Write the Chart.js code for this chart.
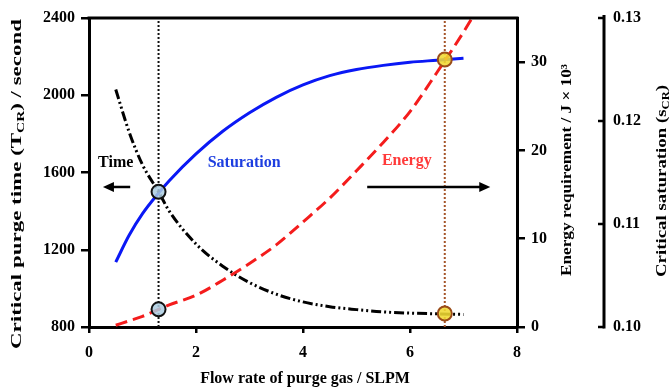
<!DOCTYPE html>
<html>
<head>
<meta charset="utf-8">
<script src="https://cdn.jsdelivr.net/npm/chart.js@4.4.1/dist/chart.umd.min.js"></script>
<style>
  html, body { margin: 0; padding: 0; background: #ffffff; }
  #wrap { width: 670px; height: 388px; position: relative; }
</style>
</head>
<body>
<div id="wrap"><canvas id="chart"></canvas></div>
<script>
// Flow rate (SLPM) and the three responses
const flowRate   = [0.5, 0.75, 1.0, 1.3, 1.5, 2.0, 2.5, 3.0, 3.5, 4.0, 4.5, 5.0, 5.5, 6.0, 6.5, 7.0];
const purgeTime  = [2030, 1810, 1640, 1500, 1400, 1230, 1115, 1030, 970, 930, 905, 890, 878, 872, 868, 865];
const saturation = [0.1063, 0.1089, 0.1110, 0.1130, 0.1142, 0.1168, 0.1190, 0.1208, 0.1223, 0.1235, 0.1244, 0.1250, 0.1254, 0.1257, 0.1259, 0.1261];
const energyFlow = [0.5, 0.75, 1.0, 1.3, 1.5, 2.0, 2.5, 3.0, 3.5, 4.0, 4.5, 5.0, 5.5, 6.0, 6.5, 7.0, 7.15];
const energy     = [0.2, 0.7, 1.2, 2.0, 2.5, 3.6, 5.3, 7.2, 9.3, 11.9, 14.6, 17.7, 20.9, 24.4, 28.8, 33.4, 34.9];

// Highlighted operating points
const lowFlow  = 1.3;
const highFlow = 6.65;
const lowFlowTime    = 1500;
const lowFlowEnergy  = 2.0;
const highFlowEnergy = 30.3;
const highFlowTime   = 870;

// Axis ranges and tick steps
const xRange = [0, 8, 2];
const timeRange = [800, 2400, 400];
const energyRange = [0, 35, 10];
const satRange = [0.10, 0.13, 0.01];

const SERIF = '"Liberation Serif", "Times New Roman", serif';
const zip = (xs, ys) => xs.map((x, i) => ({ x, y: ys[i] }));

const blueMarker = { bg: 'rgba(172,204,224,0.85)', border: '#111111' };
const goldMarker = { bg: 'rgba(240,218,50,0.88)', border: '#9a4c18' };

function markerSet(point, axis, style) {
  return {
    data: [point], yAxisID: axis, showLine: false, order: 0,
    pointRadius: 7, pointHoverRadius: 7, pointBorderWidth: 2,
    pointBackgroundColor: style.bg, pointBorderColor: style.border
  };
}
function guideSet(x, color) {
  return {
    data: [{ x, y: timeRange[0] }, { x, y: timeRange[1] }], yAxisID: 'y',
    borderColor: color, borderWidth: 2, borderDash: [2, 2], pointRadius: 0, order: 5
  };
}

// Draws a line of text made of normal and subscript pieces, centred at (cx, cy);
// 'span' optionally stretches the line along its direction to a given length
function drawRich(ctx, parts, cx, cy, rot, size, color, span) {
  ctx.save();
  ctx.translate(cx, cy);
  ctx.rotate(rot);
  ctx.fillStyle = color;
  ctx.textBaseline = 'middle';
  ctx.textAlign = 'left';
  const fontFor = p => 'bold ' + (p.sub ? Math.round(size * 0.65) : size) + 'px ' + SERIF;
  let total = 0;
  parts.forEach(p => { ctx.font = fontFor(p); total += ctx.measureText(p.t).width; });
  if (span) ctx.scale(span / total, 1);
  let x = -total / 2;
  parts.forEach(p => {
    ctx.font = fontFor(p);
    ctx.fillText(p.t, x, p.sub ? size * 0.3 : 0);
    x += ctx.measureText(p.t).width;
  });
  ctx.restore();
}

function arrow(ctx, x1, x2, y) {
  const dir = Math.sign(x2 - x1);
  ctx.save();
  ctx.strokeStyle = '#000'; ctx.fillStyle = '#000'; ctx.lineWidth = 2.5;
  ctx.beginPath(); ctx.moveTo(x1, y); ctx.lineTo(x2 - dir * 8, y); ctx.stroke();
  ctx.beginPath();
  ctx.moveTo(x2, y); ctx.lineTo(x2 - dir * 11, y - 5); ctx.lineTo(x2 - dir * 11, y + 5);
  ctx.closePath(); ctx.fill();
  ctx.restore();
}

const decorations = {
  id: 'decorations',
  afterDraw(chart) {
    const ctx = chart.ctx;
    const { left, right, top } = chart.chartArea;
    const xs = chart.scales.x, ys = chart.scales.y, s2 = chart.scales.y2;

    // top edge of the frame
    ctx.save();
    ctx.strokeStyle = '#000'; ctx.lineWidth = 3;
    ctx.beginPath(); ctx.moveTo(left - 1.5, top); ctx.lineTo(right + 1.5, top); ctx.stroke();

    // detached saturation axis with inward ticks
    const ax = s2.left + 14;
    ctx.beginPath(); ctx.moveTo(ax, s2.getPixelForValue(satRange[1]) - 3);
    ctx.lineTo(ax, s2.getPixelForValue(satRange[0]) + 1.5); ctx.stroke();
    ctx.lineWidth = 2.5;
    s2.ticks.forEach(t => {
      const y = s2.getPixelForValue(t.value);
      ctx.beginPath(); ctx.moveTo(ax - 6, y); ctx.lineTo(ax, y); ctx.stroke();
    });
    ctx.restore();

    // axis titles
    drawRich(ctx, [{ t: 'Critical purge time (T' }, { t: 'CR', sub: true }, { t: ') / second' }],
      17, 184, -Math.PI / 2, 15, '#000', 330);
    drawRich(ctx, [{ t: 'Energy requirement / J \u00d7 10\u00b3' }], 567, 170, -Math.PI / 2, 14, '#000', 212);
    drawRich(ctx, [{ t: 'Critical saturation (s' }, { t: 'CR', sub: true }, { t: ')' }],
      662, 181, -Math.PI / 2, 15, '#000', 192);
    drawRich(ctx, [{ t: 'Flow rate of purge gas / SLPM' }], 305, 379, 0, 16, '#000');

    // in-plot labels and direction arrows
    drawRich(ctx, [{ t: 'Time' }], xs.getPixelForValue(0.5), ys.getPixelForValue(1650), 0, 16, '#000');
    drawRich(ctx, [{ t: 'Saturation' }], xs.getPixelForValue(2.9), ys.getPixelForValue(1650), 0, 16, '#1d3ee0');
    drawRich(ctx, [{ t: 'Energy' }], xs.getPixelForValue(5.94), ys.getPixelForValue(1660), 0, 16, '#ff3a3a');
    const ay = ys.getPixelForValue(1525);
    arrow(ctx, xs.getPixelForValue(0.77), xs.getPixelForValue(0.26), ay);
    arrow(ctx, xs.getPixelForValue(5.2), xs.getPixelForValue(7.5), ay);
  }
};

const tickFont = { family: SERIF, size: 16, weight: 'bold' };
const plain = v => String(v);

new Chart(document.getElementById('chart'), {
  type: 'line',
  data: {
    datasets: [
      markerSet({ x: lowFlow, y: lowFlowTime }, 'y', blueMarker),
      markerSet({ x: lowFlow, y: lowFlowEnergy }, 'y1', blueMarker),
      markerSet({ x: highFlow, y: highFlowEnergy }, 'y1', goldMarker),
      markerSet({ x: highFlow, y: highFlowTime }, 'y', goldMarker),
      {
        label: 'Time', data: zip(flowRate, purgeTime), yAxisID: 'y', order: 2,
        borderColor: '#000000', borderWidth: 3, borderDash: [10, 3, 2, 3, 2, 3],
        pointRadius: 0, cubicInterpolationMode: 'monotone'
      },
      {
        label: 'Saturation', data: zip(flowRate, saturation), yAxisID: 'y2', order: 3,
        borderColor: '#0a18f5', borderWidth: 3, pointRadius: 0, cubicInterpolationMode: 'monotone'
      },
      {
        label: 'Energy', data: zip(energyFlow, energy), yAxisID: 'y1', order: 1,
        borderColor: '#f41c1c', borderWidth: 3, borderDash: [12, 6],
        pointRadius: 0, cubicInterpolationMode: 'monotone'
      },
      guideSet(lowFlow, '#111111'),
      guideSet(highFlow, '#a5552a')
    ]
  },
  options: {
    responsive: true,
    maintainAspectRatio: false,
    animation: false,
    events: [],
    layout: { padding: { top: 18, left: 0, right: 0, bottom: 0 } },
    plugins: { legend: { display: false }, tooltip: { enabled: false } },
    scales: {
      x: {
        type: 'linear', position: 'bottom',
        min: xRange[0], max: xRange[1],
        afterFit: s => { s.height = 61; },
        ticks: { stepSize: xRange[2], color: '#000', font: tickFont, padding: 10, callback: plain },
        grid: { drawOnChartArea: false, drawTicks: true, tickLength: 6, color: '#000', lineWidth: 2.5 },
        border: { display: true, color: '#000', width: 3 }
      },
      y: {
        position: 'left',
        min: timeRange[0], max: timeRange[1],
        afterFit: s => { s.width = 89; },
        ticks: { stepSize: timeRange[2], color: '#000', font: tickFont, padding: 6, callback: plain },
        grid: { drawOnChartArea: false, drawTicks: true, tickLength: 8, color: '#000', lineWidth: 2.5 },
        border: { display: true, color: '#000', width: 3 }
      },
      y1: {
        position: 'right',
        min: energyRange[0], max: energyRange[1],
        afterFit: s => { s.width = 73; },
        ticks: { stepSize: energyRange[2], includeBounds: false, color: '#000', font: tickFont, padding: 6, callback: plain },
        grid: { drawOnChartArea: false, drawTicks: true, tickLength: 8, color: '#000', lineWidth: 2.5 },
        border: { display: true, color: '#000', width: 3 }
      },
      y2: {
        position: 'right',
        min: satRange[0], max: satRange[1],
        afterFit: s => { s.width = 80; },
        ticks: {
          stepSize: satRange[2], color: '#000', font: tickFont, padding: 4,
          callback: v => Number(v).toFixed(2)
        },
        grid: { display: false, drawTicks: true, tickLength: 19 },
        border: { display: false }
      }
    }
  },
  plugins: [decorations]
});
</script>
</body>
</html>
